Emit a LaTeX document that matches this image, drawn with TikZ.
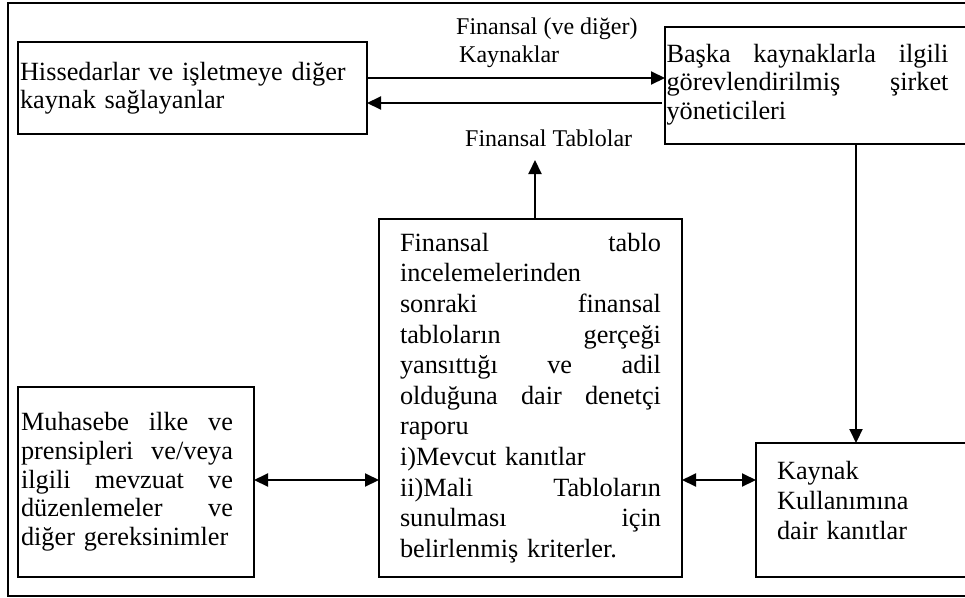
\documentclass[tikz,border=0pt]{standalone}
\usepackage{fontspec}
\setmainfont{Liberation Serif}
\usetikzlibrary{arrows.meta}
% a justified line: words are separated by \hfill
\newcommand\jl[2]{\makebox[#1][l]{#2}}
\begin{document}
\begin{tikzpicture}[x=1pt,y=-1pt,
  box/.style={draw, line width=1.4pt, inner ysep=0pt, outer sep=0pt,
    align=left, anchor=north west},
  boxfont/.style={font=\fontsize{26.3}{#1}\selectfont},
  arr/.style={line width=2pt, -{Triangle[length=14pt,width=13pt]}},
  darr/.style={line width=2pt,
    {Triangle[length=14pt,width=13pt]}-{Triangle[length=14pt,width=13pt]}},
  lbl/.style={font=\fontsize{24}{28}\selectfont, align=left, anchor=west,
    inner sep=0pt}]
\clip (0,0) rectangle (965,597);

% outer frame
\draw[line width=1.4pt] (8,3) rectangle (990,596);

% boxes
\node[box, boxfont=28, inner xsep=2pt, text width=345pt, minimum height=92pt]
  (share) at (18,42)
  {Hissedarlar ve işletmeye diğer\\kaynak sağlayanlar};

\node[box, boxfont=28.5, inner xsep=1.5pt, text width=310pt, minimum height=117pt]
  (mgmt) at (665,27)
  {\jl{282pt}{Başka\hfill kaynaklarla\hfill ilgili}\\
   \jl{282pt}{görevlendirilmiş\hfill şirket}\\
   yöneticileri\rule[-8pt]{0pt}{0pt}};

\node[box, boxfont=30.6, inner xsep=21pt, text width=261pt, minimum height=358pt]
  (audit) at (379,219)
  {\jl{261pt}{Finansal\hfill tablo}\\
   incelemelerinden\\
   \jl{261pt}{sonraki\hfill finansal}\\
   \jl{261pt}{tabloların\hfill gerçeği}\\
   \jl{261pt}{yansıttığı\hfill ve\hfill adil}\\
   \jl{261pt}{olduğuna\hfill dair\hfill denetçi}\\
   raporu\\
   i)Mevcut kanıtlar\\
   \jl{261pt}{ii)Mali\hfill Tabloların}\\
   \jl{261pt}{sunulması\hfill için}\\
   belirlenmiş kriterler.};

\node[box, boxfont=28.7, inner xsep=3pt, text width=230pt, minimum height=190pt]
  (rules) at (18,387)
  {\jl{212pt}{Muhasebe\hfill ilke\hfill ve}\\
   \jl{212pt}{prensipleri\hfill ve/veya}\\
   \jl{212pt}{ilgili\hfill mevzuat\hfill ve}\\
   \jl{212pt}{düzenlemeler\hfill ve}\\
   diğer gereksinimler\rule[-3pt]{0pt}{0pt}};

\node[box, boxfont=30, inner xsep=21pt, text width=200pt, minimum height=134pt]
  (usage) at (756,443)
  {Kaynak\\Kullanımına\\dair kanıtlar\rule[-20pt]{0pt}{0pt}};

% labels
\node[lbl] (lres) at (456,43) {Finansal (ve diğer)\\\hspace*{3pt}Kaynaklar};
\node[lbl] (ltab) at (465,138) {Finansal Tablolar};

% helper coordinates
\coordinate (yres) at (0,78);
\coordinate (ytab) at (0,103);
\coordinate (tabtip) at (535,160);
\coordinate (xdown) at (856,0);
\coordinate (ymid) at (0,480);

% connectors
\draw[arr] (share.east |- yres) -- (mgmt.west |- yres);
\draw[arr] ([xshift=-3pt]mgmt.west |- ytab) -- (share.east |- ytab);
\draw[arr] (audit.north -| tabtip) -- (tabtip);
\draw[arr] (mgmt.south -| xdown) -- (usage.north -| xdown);
\draw[darr] (rules.east |- ymid) -- (audit.west |- ymid);
\draw[darr] (audit.east |- ymid) -- (usage.west |- ymid);
\end{tikzpicture}
\end{document}
